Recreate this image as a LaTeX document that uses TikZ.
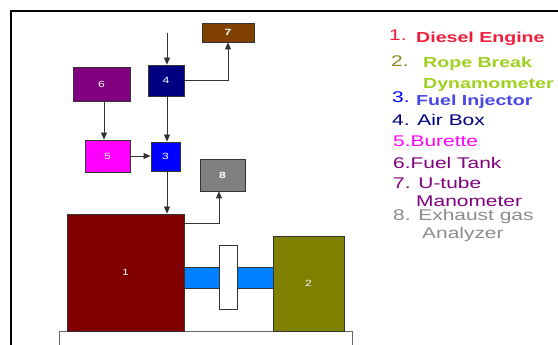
\documentclass[tikz,border=0pt]{standalone}
\usepackage{fontspec}
\setmainfont{Liberation Sans}
\newfontfamily\legfont[FakeStretch=1.35]{Liberation Sans}
\usepackage{tikz}
\usetikzlibrary{calc,arrows.meta,positioning}

\definecolor{engine}{HTML}{800000}
\definecolor{dyno}{HTML}{808000}
\definecolor{injector}{HTML}{0000FF}
\definecolor{airbox}{HTML}{000080}
\definecolor{burette}{HTML}{FF00FF}
\definecolor{tank}{HTML}{800080}
\definecolor{utube}{HTML}{804000}
\definecolor{exhaust}{HTML}{808080}
\definecolor{shaft}{HTML}{0080FF}
\definecolor{legred}{HTML}{F01E3C}
\definecolor{legolive}{HTML}{8A8A20}
\definecolor{leggreen}{HTML}{A0D020}
\definecolor{legblue}{HTML}{4848E8}
\definecolor{leggray}{HTML}{8C8C8C}

\begin{document}
\begin{tikzpicture}[
    x=1pt, y=-1pt,
    >={Triangle[width=6pt,length=7pt]},
    part/.style={draw=black!80, line width=0.8pt, inner sep=0pt, text=white,
                 font=\legfont\fontsize{9}{10}\selectfont},
    flow/.style={->, draw=black!80, line width=0.8pt},
    legnum/.style={anchor=base west, inner sep=0pt, font=\legfont\fontsize{15.5}{18}\selectfont},
    legtext/.style={anchor=base west, inner sep=0pt, font=\legfont\fontsize{15.5}{18}\selectfont},
    legbold/.style={anchor=base west, inner sep=0pt, font=\legfont\bfseries\fontsize{14.5}{17}\selectfont}
  ]
  \useasboundingbox (0,0) rectangle (558,345);
  \fill[white] (0,0) rectangle (558,345);

  % cadre
  \draw[line width=1.2pt] (11,345) -- (11,11) -- (558,11);

  % socle, moteur et frein
  \node[part, draw=black!60, fill=white, minimum width=293pt, minimum height=24pt] (base) at (205.5,343) {};
  \node[part, fill=engine, minimum width=117pt, minimum height=117pt] (n1) at (125.5,272.5) {1};
  \node[part, fill=dyno, minimum width=71pt, minimum height=95pt] (n2) at (308.5,283.5) {2};
  \node[part, fill=shaft, minimum width=35pt, minimum height=21pt] (shL) at (201.5,277.5) {};
  \node[part, fill=shaft, minimum width=36pt, minimum height=21pt] (shR) at (255,277.5) {};
  \node[part, fill=white, minimum width=18pt, minimum height=64pt] (fly) at (228,277) {};

  % circuit carburant et air
  \node[part, fill=injector, minimum width=29pt, minimum height=29pt] (n3) at (165.5,156.5) {3};
  \node[part, fill=airbox, minimum width=36pt, minimum height=31pt] (n4) at (166,80.5) {4};
  \node[part, fill=burette, minimum width=45pt, minimum height=32pt] (n5) at (107.5,156) {5};
  \node[part, fill=tank, minimum width=57pt, minimum height=34pt] (n6) at (101.5,84) {6};
  \node[part, fill=utube, minimum width=52pt, minimum height=19pt, font=\legfont\bfseries\fontsize{9}{10}\selectfont] (n7) at (228,32.5) {7};
  \node[part, fill=exhaust, minimum width=45pt, minimum height=32pt, font=\legfont\bfseries\fontsize{9}{10}\selectfont] (n8) at (222.5,175) {8};
  \coordinate (airin) at (167,33);

  % liaisons
  \draw[flow] (airin) -- (airin |- n4.north);
  \draw[flow] (n4.east) -| (n7.south);
  \draw[flow] (airin |- n4.south) -- (airin |- n3.north);
  \draw[flow] ([xshift=2.5pt]n6.south) -- ([xshift=2.5pt]n6.south |- n5.north);
  \draw[flow] (n5.east) -- (n5.east -| n3.west);
  \draw[flow] (airin |- n3.south) -- (airin |- n1.north);
  \draw[flow] ([yshift=-10pt]n1.north east) -| ([xshift=-3.5pt]n8.south);

  % legende
  \node[legnum, text=legred] (k1) at (389,41) {1.};
  \node[legbold, text=legred] (t1) at (416,43) {Diesel Engine};
  \node[legnum, text=legolive] (k2) at (391,67) {2.};
  \node[legbold, text=leggreen] (t2) at (423,68) {Rope Break};
  \node[legbold, text=leggreen] (t2b) at (423,89) {Dynamometer};
  \node[legnum, text=injector] (k3) at (392,103) {3.};
  \node[legbold, text=legblue] (t3) at (416,106) {Fuel Injector};
  \node[legtext, text=airbox] (t4) at (392,126) {4. Air Box};
  \node[legtext, text=burette] (t5) at (393,147) {5.Burette};
  \node[legtext, text=tank] (t6) at (393,168) {6.Fuel Tank};
  \node[legtext, text=tank] (t7) at (393,189) {7. U-tube};
  \node[legtext, text=tank] (t7b) at (416,207) {Manometer};
  \node[legtext, text=leggray] (t8) at (393,221) {8. Exhaust gas};
  \node[legtext, text=leggray] (t8b) at (422,238) {Analyzer};
\end{tikzpicture}
\end{document}
